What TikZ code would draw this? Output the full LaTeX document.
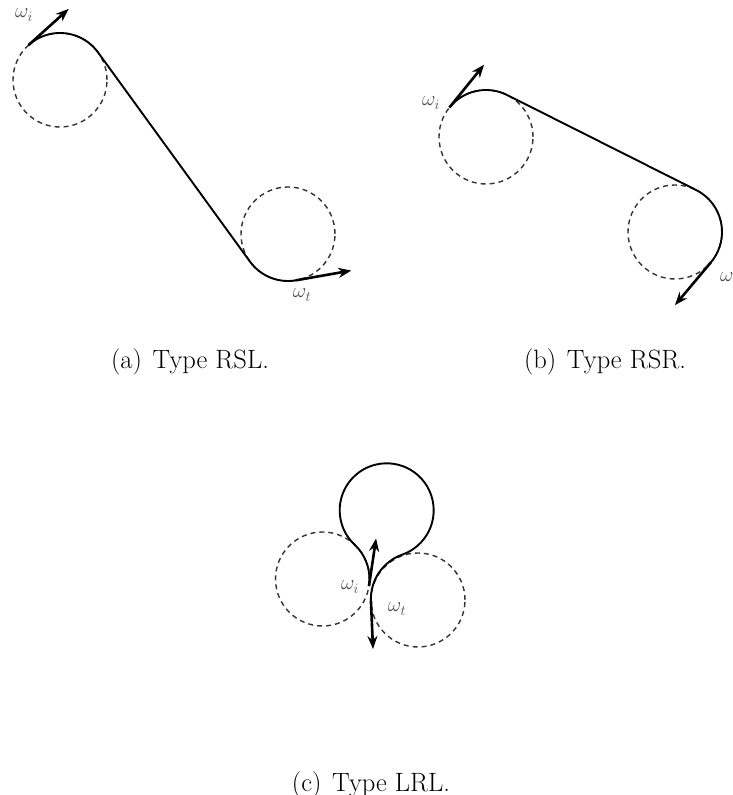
\documentclass[tikz,border=0pt]{standalone}
\usetikzlibrary{calc,arrows.meta}
\tikzset{
  guide/.style={draw=black!80, line width=1.4pt, dash pattern=on 5pt off 4pt},
  route/.style={draw=black, line width=1.9pt},
  vec/.style={draw=black, line width=2.6pt, -{Stealth[length=13pt,width=10pt]}},
  wlabel/.style={text=black!70, font=\fontsize{20}{22}\selectfont, inner sep=0pt},
  captext/.style={font=\fontsize{26.5}{30}\selectfont, inner sep=0pt, anchor=base}
}
\begin{document}
\begin{tikzpicture}[x=1pt,y=1pt]
\useasboundingbox (0,0) rectangle (732,795);
% ---------- (a) RSL ----------
\coordinate (C1a) at (60,715);
\coordinate (C2a) at (288,561);
\draw[guide] (C1a) circle[radius=47];
\draw[guide] (C2a) circle[radius=47];
\draw[route] ($(C1a)+(132:47)$) coordinate (sa)
  arc[start angle=132, end angle=36, radius=47] coordinate (t1a)
  -- ($(C2a)+(216:47)$) coordinate (t2a)
  arc[start angle=216, end angle=280, radius=47] coordinate (ea);
\coordinate (sa2) at ($(sa)+(42:54)$);
\coordinate (ea2) at ($(ea)+(10:56)$);
\draw[vec] (sa) -- (sa2);
\draw[vec] (ea) -- (ea2);
\node[wlabel] (wia) at (24,780) {$\omega_i$};
\node[wlabel] (wta) at (302,500) {$\omega_t$};
\node[captext] (capa) at (190,426) {(a)\hspace{0.4em}Type RSL.};
% ---------- (b) RSR ----------
\coordinate (C1b) at (486,658);
\coordinate (C2b) at (675,563);
\draw[guide] (C1b) circle[radius=47];
\draw[guide] (C2b) circle[radius=47];
\draw[route] ($(C1b)+(141:47)$) coordinate (sb)
  arc[start angle=141, end angle=63.3, radius=47] coordinate (t1b)
  -- ($(C2b)+(63.3:47)$) coordinate (t2b)
  arc[start angle=63.3, end angle=-40, radius=47] coordinate (eb);
\coordinate (sb2) at ($(sb)+(51:55)$);
\coordinate (eb2) at ($(eb)+(-130:56)$);
\draw[vec] (sb) -- (sb2);
\draw[vec] (eb) -- (eb2);
\node[wlabel] (wib) at (431,692) {$\omega_i$};
\node[wlabel, anchor=west] (wtb) at (720,516) {$\omega_t$};
\node[captext] (capb) at (605,426) {(b)\hspace{0.4em}Type RSR.};
% ---------- (c) LRL ----------
\coordinate (Lc) at (322.5,216);
\coordinate (Tc) at (386.5,284.5);
\coordinate (Rc) at (418,195);
\draw[guide] (Lc) circle[radius=47];
\draw[guide] (Rc) circle[radius=47];
\draw[route] ($(Lc)+(-8.5:47)$) coordinate (sc)
  arc[start angle=-8.5, end angle=46.94, radius=47] coordinate (t1c)
  arc[start angle=226.94, end angle=-70.61, radius=47] coordinate (t2c)
  arc[start angle=109.39, end angle=182.5, radius=47] coordinate (ec);
\coordinate (sc2) at ($(sc)+(81.5:48)$);
\coordinate (ec2) at ($(ec)+(272.5:48)$);
\draw[vec] (sc) -- (sc2);
\draw[vec] (ec) -- (ec2);
\node[wlabel] (wic) at (350,208) {$\omega_i$};
\node[wlabel] (wtc) at (397,186) {$\omega_t$};
\node[captext] (capc) at (371,4) {(c)\hspace{0.4em}Type LRL.};
\end{tikzpicture}
\end{document}
